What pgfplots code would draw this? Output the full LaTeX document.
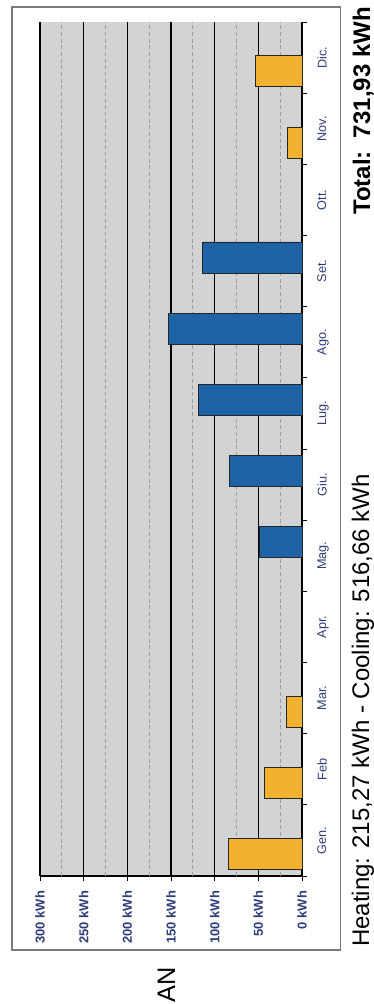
\documentclass[border=0pt]{standalone}
\usepackage{pgfplots}
\pgfplotsset{compat=1.18}
\usepackage{fontspec}
\setmainfont{Liberation Sans}
\definecolor{bggray}{HTML}{D2D3D5}
\definecolor{heatcol}{HTML}{F2B12E}
\definecolor{coolcol}{HTML}{1E63A6}
\definecolor{labcol}{HTML}{2E3C78}
\definecolor{framecol}{HTML}{7A7A7A}
\begin{document}
\begin{tikzpicture}
\useasboundingbox (0,0) rectangle (280.5pt,-753pt);
\begin{axis}[
  at={(128.25pt,-336.75pt)}, anchor=center,
  width=196.5pt, height=640.5pt, scale only axis,
  xmin=0, xmax=300, x dir=reverse,
  ymin=0.5, ymax=12.5,
  axis background/.style={fill=bggray},
  axis x line*=bottom, axis y line*=right,
  axis line style={black, line width=0.8pt},
  xtick={0,50,...,300},
  xticklabels={0 kWh,50 kWh,100 kWh,150 kWh,200 kWh,250 kWh,300 kWh},
  xmajorgrids,
  major grid style={black, line width=0.8pt},
  extra x ticks={25,75,...,275},
  extra x tick labels={},
  extra x tick style={grid=major, major grid style={densely dashed, gray!75, line width=0.5pt}, major tick length=0pt},
  ytick={0.5,1.5,...,12.5},
  yticklabels={},
  extra y ticks={1,...,12},
  extra y tick labels={Gen.,Feb,Mar.,Apr.,Mag.,Giu.,Lug.,Ago.,Set.,Ott.,Nov.,Dic.},
  extra y tick style={major tick length=0pt, grid=none},
  tick align=outside,
  major tick length=3.75pt,
  tick style={black, line width=0.7pt},
  xticklabel style={yshift=-4pt, rotate=90, anchor=east, font=\bfseries\fontsize{9.7}{10}\selectfont, text=labcol},
  yticklabel style={xshift=8pt, rotate=90, anchor=north, font=\fontsize{9.5}{10}\selectfont, text=labcol},
  xbar, bar width=23.25pt,
  clip=false,
]
\addplot[xbar, bar shift=-10.25pt, fill=heatcol, draw=black!85, line width=0.6pt]
  coordinates {(84.2,1) (43.0,2) (18.2,3) (16.6,11) (53.27,12)};
\addplot[xbar, bar shift=10.25pt, fill=coolcol, draw=black!85, line width=0.6pt]
  coordinates {(48.3,5) (83.5,6) (118.4,7) (152.5,8) (113.96,9)};
\end{axis}
\begin{scope}[x=0.75pt,y=-0.75pt]
\draw[framecol, line width=0.9pt] (12,7) rectangle (340.7,950);
\node[rotate=90, anchor=base west, inner sep=0pt, font=\fontsize{18}{20}\selectfont] at (369,947) {Heating: 215,27 kWh - Cooling: 516,66 kWh};
\node[rotate=90, anchor=base east, inner sep=0pt, font=\bfseries\fontsize{18}{20}\selectfont] at (370,7) {Total:\ \ 731,93 kWh};
\node[rotate=90, anchor=base east, inner sep=0pt, font=\fontsize{19}{20}\selectfont] at (175,967) {AN};
\end{scope}
\end{tikzpicture}
\end{document}
